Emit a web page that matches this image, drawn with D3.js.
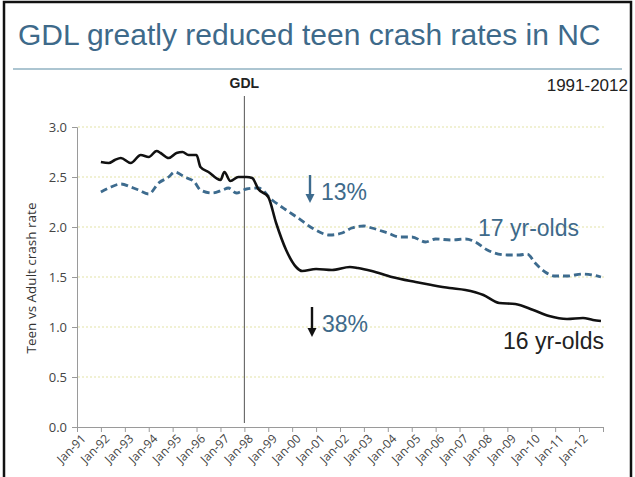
<!DOCTYPE html>
<html>
<head>
<meta charset="utf-8">
<script src="https://cdn.jsdelivr.net/npm/d3@7"></script>
<style>
  body { margin: 0; background: #fff; }
  svg { display: block; font-family: "Liberation Sans", Arial, sans-serif; }
</style>
</head>
<body>
<script>
// readings, monthly dates
var dates16 = ["1992-01","1992-05","1992-08","1992-11","1993-04","1993-09","1994-01","1994-05","1994-07","1994-11",
  "1995-03","1995-06","1995-09","1996-01","1996-03","1996-07","1997-01","1997-03","1997-06","1997-10",
  "1998-02","1998-05","1998-08","1999-01","1999-05","1999-10","2000-03","2000-06","2001-01","2001-09",
  "2002-06","2002-10","2003-05","2004-03","2005-03","2005-11","2006-08","2007-04","2008-01","2008-09",
  "2009-05","2010-02","2010-10","2011-07","2012-03","2012-08","2012-12"];
var teen16 = [2.65,2.64,2.67,2.69,2.64,2.72,2.70,2.76,2.74,2.69,
  2.74,2.75,2.72,2.72,2.60,2.55,2.47,2.55,2.46,2.50,
  2.50,2.49,2.38,2.30,2.04,1.77,1.60,1.56,1.58,1.57,
  1.60,1.59,1.56,1.50,1.45,1.42,1.39,1.37,1.32,1.24,
  1.23,1.17,1.11,1.08,1.09,1.07,1.06];

var dates17 = ["1992-01","1992-05","1992-11","1993-04","1993-08","1994-01","1994-06","1994-11","1995-02","1995-07",
  "1995-12","1996-03","1996-09","1997-02","1997-05","1997-09","1998-02","1998-08","1999-03","1999-10",
  "2000-04","2000-11","2001-08","2002-02","2002-07","2003-01","2003-05","2004-01","2004-07","2005-01",
  "2005-08","2006-01","2006-09","2007-04","2007-09","2008-03","2009-01","2009-07","2009-11","2010-03",
  "2010-08","2011-01","2011-07","2012-03","2012-12"];
var teen17 = [2.35,2.39,2.43,2.40,2.37,2.33,2.44,2.50,2.55,2.50,
  2.45,2.37,2.34,2.37,2.39,2.34,2.38,2.39,2.27,2.17,
  2.09,1.99,1.92,1.94,1.99,2.01,1.99,1.94,1.90,1.90,
  1.85,1.88,1.87,1.88,1.85,1.77,1.72,1.72,1.73,1.64,
  1.55,1.51,1.51,1.53,1.50];

var yTicks = [0, 0.5, 1.0, 1.5, 2.0, 2.5, 3.0];
var xTickYears = d3.range(1991, 2013);
var gdlDate = "1998-01";

var W = 635, H = 477;
var parse = d3.timeParse("%Y-%m");
var fmt = d3.timeFormat("%b-%y");

var svg = d3.select("body").append("svg").attr("width", W).attr("height", H);

// frame
svg.append("rect").attr("x", 4).attr("y", 2).attr("width", 627).attr("height", 478)
  .attr("fill", "none").attr("stroke", "#111").attr("stroke-width", 2.5);

// title
svg.append("text").attr("x", 18).attr("y", 45)
  .attr("font-size", 30).attr("fill", "#3e6a8a")
  .text("GDL greatly reduced teen crash rates in NC");
svg.append("line").attr("x1", 13).attr("x2", 622).attr("y1", 69).attr("y2", 69)
  .attr("stroke", "#90b2c2").attr("stroke-width", 1.5);

var x = d3.scaleTime().domain([parse("1991-01"), parse("2013-01")]).range([77, 603]);
var y = d3.scaleLinear().domain([0, 3]).range([427, 127]);

// gridlines
svg.append("g").selectAll("line").data(yTicks.slice(1)).enter().append("line")
  .attr("x1", 78).attr("x2", 605)
  .attr("y1", d => y(d)).attr("y2", d => y(d))
  .attr("stroke", "#e4e4a8").attr("stroke-width", 1.2).attr("stroke-dasharray", "2,2");

// y axis
var yAxis = svg.append("g").attr("transform", "translate(77,0)")
  .call(d3.axisLeft(y).tickValues(yTicks).tickFormat(d3.format(".1f")).tickSize(5).tickPadding(5));
yAxis.select(".domain").attr("stroke", "#9a9a9a");
yAxis.selectAll(".tick line").attr("stroke", "#9a9a9a");
yAxis.selectAll("text").attr("font-size", 13).attr("fill", "#444").attr("font-family", "Open Sans, sans-serif");

// x axis
var xAxis = svg.append("g").attr("transform", "translate(0,427)")
  .call(d3.axisBottom(x).tickValues(xTickYears.map(v => new Date(v, 0, 1)).concat([new Date(2013, 0, 1)]))
    .tickFormat(d => d.getFullYear() === 2013 ? "" : fmt(d)).tickSize(5).tickSizeOuter(0));
xAxis.select(".domain").attr("stroke", "#9a9a9a");
xAxis.selectAll(".tick line").attr("stroke", "#9a9a9a");
xAxis.selectAll("text").attr("font-size", 12).attr("fill", "#444")
  .attr("text-anchor", "end").attr("dx", "-0.2em").attr("dy", "0.6em")
  .attr("transform", "rotate(-45)").attr("font-family", "Open Sans, sans-serif");

svg.append("text").attr("transform", "translate(36,278) rotate(-90)")
  .attr("text-anchor", "middle").attr("font-size", 13.5).attr("fill", "#333")
  .attr("font-family", "Open Sans, sans-serif")
  .text("Teen vs Adult crash rate");

// GDL marker
svg.append("line").attr("x1", x(parse(gdlDate))).attr("x2", x(parse(gdlDate)))
  .attr("y1", 96).attr("y2", 423).attr("stroke", "#555").attr("stroke-width", 1);
svg.append("text").attr("x", x(parse(gdlDate))).attr("y", 88).attr("text-anchor", "middle")
  .attr("font-size", 14).attr("font-weight", "bold").attr("fill", "#222").text("GDL");
svg.append("text").attr("x", 628).attr("y", 91).attr("text-anchor", "end")
  .attr("font-size", 17).attr("fill", "#222").text("1991-2012");

var line = d3.line().x(d => x(d[0])).y(d => y(d[1])).curve(d3.curveMonotoneX);

svg.append("path").datum(dates17.map((d, i) => [parse(d), teen17[i]]))
  .attr("d", line).attr("fill", "none").attr("stroke", "#3d6b8e")
  .attr("stroke-width", 2.8).attr("stroke-dasharray", "7,4");

svg.append("path").datum(dates16.map((d, i) => [parse(d), teen16[i]]))
  .attr("d", line).attr("fill", "none").attr("stroke", "#111").attr("stroke-width", 2.6);

// annotations
function arrow(xp, y1, y2, col) {
  svg.append("line").attr("x1", xp).attr("x2", xp).attr("y1", y1).attr("y2", y2 - 6)
    .attr("stroke", col).attr("stroke-width", 2.4);
  svg.append("path").attr("d", "M" + (xp - 4.5) + "," + (y2 - 9) + "L" + (xp + 4.5) + "," + (y2 - 9) + "L" + xp + "," + y2 + "Z")
    .attr("fill", col);
}
arrow(310, 175, 203, "#3d6b8e");
svg.append("text").attr("x", 321).attr("y", 200).attr("font-size", 23).attr("fill", "#3e6a8a").text("13%");
arrow(312, 307, 337, "#111");
svg.append("text").attr("x", 322).attr("y", 332).attr("font-size", 23).attr("fill", "#3e6a8a").text("38%");
svg.append("text").attr("x", 478).attr("y", 236).attr("font-size", 23).attr("fill", "#3e6a8a").text("17 yr-olds");
svg.append("text").attr("x", 503).attr("y", 349).attr("font-size", 23).attr("fill", "#222").text("16 yr-olds");
</script>
</body>
</html>
